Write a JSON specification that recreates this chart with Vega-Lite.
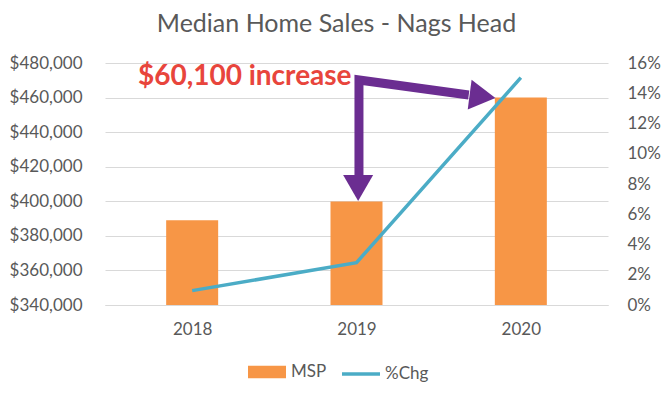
{
  "$schema": "https://vega.github.io/schema/vega-lite/v6.json",
  "width": 503,
  "height": 242,
  "autosize": {"type": "none"},
  "padding": {"left": 105, "top": 63, "right": 58, "bottom": 89},
  "background": "white",
  "title": {"text": "Median Home Sales - Nags Head", "fontSize": 25, "font": "Lato", "fontWeight": "normal", "color": "#595959", "offset": 17, "dx": -20},
  "config": {
    "view": {"stroke": null},
    "font": "Lato",
    "axis": {"labelFont": "Lato", "labelFontSize": 17, "labelColor": "#595959", "ticks": false, "domain": false, "gridColor": "#d9d9d9", "gridWidth": 1, "labelOverlap": false},
    "legend": {"labelFont": "Lato", "labelFontSize": 17, "labelColor": "#595959", "padding": 0}
  },
  "datasets": {
    "sales": [
      {"year": 2018, "msp": 389000, "chg": 0.0095},
      {"year": 2019, "msp": 399900, "chg": 0.028},
      {"year": 2020, "msp": 460000, "chg": 0.1503}
    ],
    "arrowPath": [
      {"x": 2019.015, "y": 414600, "ord": 1},
      {"x": 2019.015, "y": 470200, "ord": 2},
      {"x": 2019.683, "y": 461500, "ord": 3}
    ],
    "headDown": [{"x": 2019.01, "y": 407700}],
    "headRight": [{"x": 2019.767, "y": 460700}],
    "note": [{"x": 2018.97, "y": 471900, "label": "$60,100 increase"}]
  },
  "layer": [
    {
      "data": {"name": "sales"},
      "mark": {"type": "bar", "size": 52},
      "encoding": {
        "x": {"field": "year", "type": "quantitative", "title": null,
          "scale": {"domain": [2017.5, 2020.5], "nice": false, "zero": false},
          "axis": {"values": [2018, 2019, 2020], "format": "d", "grid": false, "domain": true, "domainColor": "#d9d9d9", "domainWidth": 1, "labelPadding": 16}},
        "y": {"field": "msp", "type": "quantitative", "title": null,
          "scale": {"domain": [340000, 480000], "nice": false, "zero": false},
          "axis": {"values": [340000, 360000, 380000, 400000, 420000, 440000, 460000, 480000], "format": "$,.0f", "grid": true, "labelPadding": 23, "labelOverlap": false}},
        "y2": {"datum": 340000},
        "fill": {"datum": "MSP", "scale": {"range": ["#F79646"]},
          "legend": {"orient": "none", "legendX": 143, "legendY": 290, "title": null, "symbolType": "M-1,-0.33H1V0.33H-1Z", "symbolSize": 1444, "symbolStrokeWidth": 0, "labelOffset": 5}}
      }
    },
    {
      "data": {"name": "sales"},
      "mark": {"type": "line", "strokeWidth": 3.5, "color": "#4BACC6"},
      "encoding": {
        "x": {"field": "year", "type": "quantitative", "title": null},
        "y": {"field": "chg", "type": "quantitative", "title": null,
          "scale": {"domain": [0, 0.16], "nice": false},
          "axis": {"orient": "right", "format": ".0%", "values": [0, 0.02, 0.04, 0.06, 0.08, 0.1, 0.12, 0.14, 0.16], "grid": false, "labelPadding": 19, "labelOverlap": false}},
        "stroke": {"datum": "%Chg", "scale": {"range": ["#4BACC6"]},
          "legend": {"orient": "none", "legendX": 235, "legendY": 290, "title": null, "symbolType": "stroke", "symbolSize": 1444, "symbolStrokeWidth": 3.5, "labelOffset": 3}}
      }
    },
    {
      "data": {"name": "arrowPath"},
      "mark": {"type": "line", "color": "#6B2D91", "strokeWidth": 9, "strokeJoin": "miter", "strokeCap": "butt"},
      "encoding": {
        "x": {"field": "x", "type": "quantitative", "title": null},
        "y": {"field": "y", "type": "quantitative", "axis": null, "scale": {"domain": [340000, 480000], "nice": false, "zero": false}},
        "order": {"field": "ord"}
      }
    },
    {
      "data": {"name": "headDown"},
      "mark": {"type": "point", "shape": "triangle-down", "size": 900, "filled": true, "color": "#6B2D91", "opacity": 1},
      "encoding": {
        "x": {"field": "x", "type": "quantitative", "title": null},
        "y": {"field": "y", "type": "quantitative", "axis": null, "scale": {"domain": [340000, 480000], "nice": false, "zero": false}}
      }
    },
    {
      "data": {"name": "headRight"},
      "mark": {"type": "point", "shape": "triangle-right", "angle": 7.4, "size": 900, "filled": true, "color": "#6B2D91", "opacity": 1},
      "encoding": {
        "x": {"field": "x", "type": "quantitative", "title": null},
        "y": {"field": "y", "type": "quantitative", "axis": null, "scale": {"domain": [340000, 480000], "nice": false, "zero": false}}
      }
    },
    {
      "data": {"name": "note"},
      "mark": {"type": "text", "align": "right", "baseline": "middle", "font": "Lato", "fontWeight": "bold", "fontSize": 28, "color": "#E8453C"},
      "encoding": {
        "x": {"field": "x", "type": "quantitative", "title": null},
        "y": {"field": "y", "type": "quantitative", "axis": null, "scale": {"domain": [340000, 480000], "nice": false, "zero": false}},
        "text": {"field": "label"}
      }
    }
  ],
  "resolve": {"scale": {"y": "independent"}}
}
